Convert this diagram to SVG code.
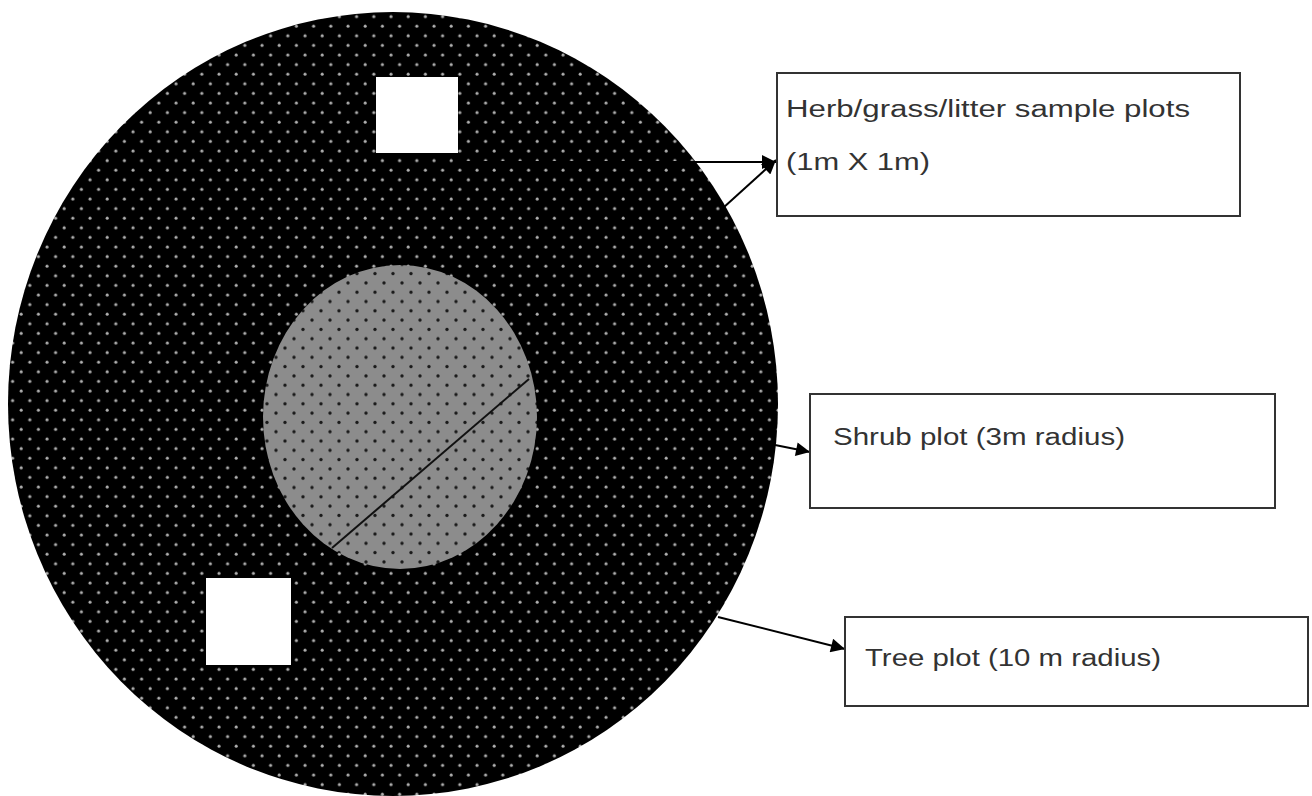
<svg xmlns="http://www.w3.org/2000/svg" width="1312" height="796" viewBox="0 0 1312 796">
  <defs>
    <pattern id="outerDots" patternUnits="userSpaceOnUse" x="0" y="3" width="17.2" height="19.2">
      <rect width="17.2" height="19.2" fill="#000"/>
      <circle cx="4" cy="4" r="1.5" fill="#b0b0b0"/>
      <circle cx="12.6" cy="13.6" r="1.5" fill="#b0b0b0"/>
    </pattern>
    <pattern id="innerDots" patternUnits="userSpaceOnUse" x="2" y="0" width="18" height="18.6">
      <rect width="18" height="18.6" fill="#8c8c8c"/>
      <circle cx="4" cy="4" r="1.7" fill="#1a1a1a"/>
      <circle cx="13" cy="13.3" r="1.7" fill="#1a1a1a"/>
    </pattern>
    <marker id="arrow" viewBox="0 0 10 10" refX="10" refY="5" markerWidth="8" markerHeight="7" markerUnits="strokeWidth" orient="auto">
      <path d="M0,0 L10,5 L0,10 z" fill="#000"/>
    </marker>
  </defs>
  <style>
    .box { fill: #fff; stroke: #333; stroke-width: 2; }
    .label { font-family: "Liberation Sans", Arial, sans-serif; font-size: 23px; fill: #333; }
    .conn { stroke: #000; stroke-width: 2; fill: none; }
  </style>
  <rect width="1312" height="796" fill="#fff"/>

  <g id="tree-plot-circle">
    <ellipse cx="393" cy="404" rx="385" ry="392" fill="url(#outerDots)"/>
  </g>
  <g id="shrub-plot-circle">
    <ellipse cx="400" cy="417" rx="137" ry="152" fill="url(#innerDots)"/>
    <line x1="332" y1="548" x2="529" y2="379" stroke="#111" stroke-width="2"/>
  </g>
  <g id="herb-plot-top">
    <rect x="376" y="77" width="82" height="76" fill="#fff"/>
  </g>
  <g id="herb-plot-bottom">
    <rect x="206" y="578" width="85" height="87" fill="#fff"/>
  </g>

  <g id="connectors">
    <line class="conn" x1="458" y1="162" x2="776" y2="162" stroke-width="2.5" marker-end="url(#arrow)"/>
    <line class="conn" x1="723" y1="208" x2="776" y2="160" marker-end="url(#arrow)"/>
    <line class="conn" x1="775" y1="445" x2="810" y2="452" marker-end="url(#arrow)"/>
    <line class="conn" x1="718" y1="617" x2="845" y2="649" marker-end="url(#arrow)"/>
  </g>

  <g id="herb-label">
    <rect class="box" x="777" y="73" width="463" height="143"/>
    <text class="label" x="786" y="117" textLength="404" lengthAdjust="spacingAndGlyphs">Herb/grass/litter sample plots</text>
    <text class="label" x="786" y="170" textLength="144" lengthAdjust="spacingAndGlyphs">(1m X 1m)</text>
  </g>
  <g id="shrub-label">
    <rect class="box" x="810" y="394" width="465" height="114"/>
    <text class="label" x="833" y="445" textLength="292" lengthAdjust="spacingAndGlyphs">Shrub plot (3m radius)</text>
  </g>
  <g id="tree-label">
    <rect class="box" x="845" y="617" width="463" height="89"/>
    <text class="label" x="865" y="666" textLength="296" lengthAdjust="spacingAndGlyphs">Tree plot (10 m radius)</text>
  </g>
</svg>
